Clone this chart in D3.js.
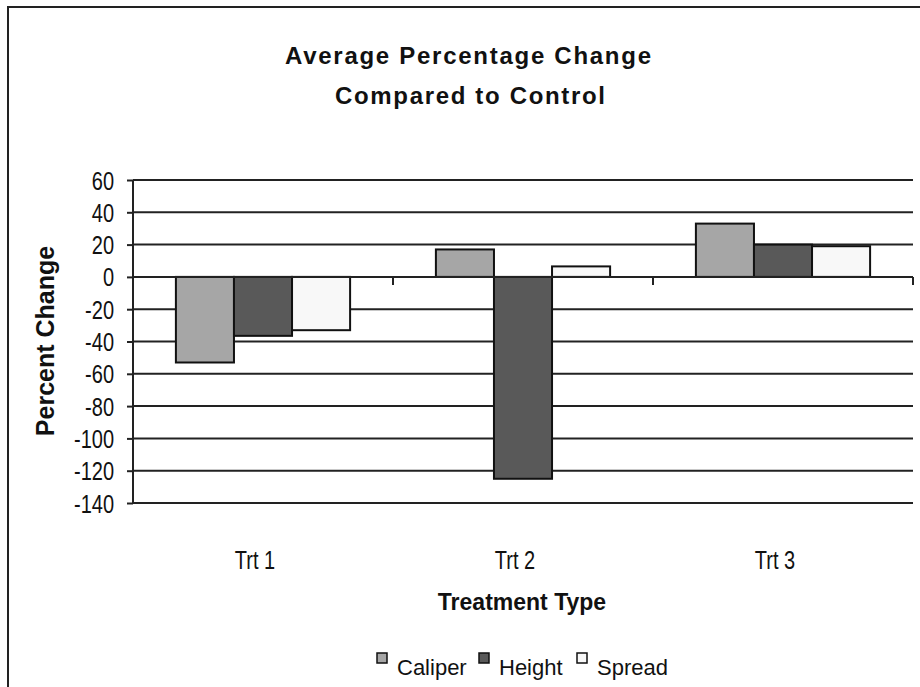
<!DOCTYPE html>
<head>
    <meta charset="utf-8">
    <script src="https://d3js.org/d3.v7.min.js"></script>
    <style>
      body { margin: 0; background: #fff; }
      text {
        font-family: "Liberation Sans", Arial, sans-serif;
        fill: #111;
      }
      .charttitle {
        font-weight: bold;
        font-size: 24px;
      }
      .axistitle {
        font-weight: bold;
        font-size: 23px;
      }
      .ylabel {
        font-weight: bold;
        font-size: 25px;
      }
      .ticklabel { font-size: 25px; }
      .legendlabel { font-size: 22px; }
    </style>
<body>
    <script>
        // data
        var categories = ["Trt 1", "Trt 2", "Trt 3"];
        var seriesNames = ["Caliper", "Height", "Spread"];
        var caliper = [-53, 17, 33];
        var height = [-36.5, -125, 20];
        var spread = [-33, 6.5, 19];
        var yTicks = [60, 40, 20, 0, -20, -40, -60, -80, -100, -120, -140];
        var seriesColors = ["#a6a6a6", "#595959", "#f8f8f8"];

        var seriesValues = [caliper, height, spread];
        var rows = [];
        categories.forEach(function(c, i) {
          seriesNames.forEach(function(s, j) {
            rows.push({cat: c, series: s, value: seriesValues[j][i]});
          });
        });

        var narrow = 0.8; // squeeze for the condensed axis font

        var svg_w = 920, svg_h = 687;
        var svg = d3.select("body").append("svg")
          .attr("width", svg_w)
          .attr("height", svg_h);

        // outer frame (right and bottom edges fall outside the picture)
        svg.append("rect")
          .attr("x", 8).attr("y", 7)
          .attr("width", 1000).attr("height", 1000)
          .attr("fill", "none")
          .attr("stroke", "#222")
          .attr("stroke-width", 2);

        var plotLeft = 133, plotRight = 913;
        var x0 = d3.scaleBand().domain(categories).range([plotLeft, plotRight]).padding(0);
        var x1 = d3.scaleBand().domain(seriesNames)
          .range([x0.bandwidth() * 0.165, x0.bandwidth() * 0.835]);
        var y = d3.scaleLinear().domain([-140, 60]).range([503, 180]);
        var color = d3.scaleOrdinal().domain(seriesNames).range(seriesColors);

        // y axis
        var yAxis = svg.append("g")
          .attr("transform", "translate(" + plotLeft + ",0)")
          .call(d3.axisLeft(y).tickValues(yTicks).tickSize(6).tickPadding(12)
            .tickFormat(function(d) { return String(d); }));
        yAxis.selectAll(".tick line").attr("stroke", "#222").attr("stroke-width", 2);
        yAxis.select(".domain").attr("stroke", "#222").attr("stroke-width", 2)
          .attr("d", "M0," + y(60) + "V" + y(-140));
        yAxis.selectAll(".tick text")
          .attr("class", "ticklabel")
          .attr("font-size", null).attr("font-family", null)
          .attr("fill", "#111")
          .attr("x", -19 / narrow)
          .attr("dy", "0.36em")
          .attr("transform", "scale(" + narrow + ",1)");

        // gridlines
        svg.append("g").selectAll("line").data(yTicks).enter().append("line")
          .attr("x1", plotLeft).attr("x2", plotRight)
          .attr("y1", function(d) { return y(d); })
          .attr("y2", function(d) { return y(d); })
          .attr("stroke", "#222").attr("stroke-width", 2);

        // bars
        svg.append("g").selectAll("rect").data(rows).enter().append("rect")
          .attr("x", function(d) { return x0(d.cat) + x1(d.series); })
          .attr("width", x1.bandwidth())
          .attr("y", function(d) { return y(Math.max(0, d.value)); })
          .attr("height", function(d) { return Math.abs(y(d.value) - y(0)); })
          .attr("fill", function(d) { return color(d.series); })
          .attr("stroke", "#111")
          .attr("stroke-width", 2);

        // x axis at zero with ticks between categories
        var xAxisG = svg.append("g");
        xAxisG.append("line")
          .attr("x1", plotLeft).attr("x2", plotRight)
          .attr("y1", y(0)).attr("y2", y(0))
          .attr("stroke", "#222").attr("stroke-width", 2);
        xAxisG.selectAll(".ctick").data(categories).enter().append("line")
          .attr("class", "ctick")
          .attr("x1", function(d) { return x0(d) + x0.bandwidth(); })
          .attr("x2", function(d) { return x0(d) + x0.bandwidth(); })
          .attr("y1", y(0)).attr("y2", y(0) + 8)
          .attr("stroke", "#222").attr("stroke-width", 2);

        // category labels
        svg.append("g").selectAll("text").data(categories).enter().append("text")
          .attr("class", "ticklabel")
          .attr("transform", "scale(" + narrow + ",1)")
          .attr("x", function(d) { return (x0(d) + x0.bandwidth() / 2 - 8) / narrow; })
          .attr("y", 569)
          .attr("text-anchor", "middle")
          .text(function(d) { return d; });

        // titles
        svg.append("text").attr("class", "charttitle")
          .attr("x", 468).attr("y", 64).attr("text-anchor", "middle")
          .attr("textLength", 366).attr("lengthAdjust", "spacing")
          .text("Average Percentage Change");
        svg.append("text").attr("class", "charttitle")
          .attr("x", 470).attr("y", 104).attr("text-anchor", "middle")
          .attr("textLength", 270).attr("lengthAdjust", "spacing")
          .text("Compared to Control");

        svg.append("text").attr("class", "axistitle")
          .attr("x", 522).attr("y", 610).attr("text-anchor", "middle")
          .text("Treatment Type");

        svg.append("text").attr("class", "ylabel")
          .attr("transform", "translate(54,341) rotate(-90)")
          .attr("text-anchor", "middle")
          .text("Percent Change");

        // legend
        var legendX = [377, 479, 577];
        var legend = svg.append("g").selectAll("g").data(seriesNames).enter().append("g")
          .attr("transform", function(d, i) { return "translate(" + legendX[i] + ",653)"; });
        legend.append("rect")
          .attr("width", 10).attr("height", 10)
          .attr("fill", function(d) { return color(d); })
          .attr("stroke", "#111").attr("stroke-width", 1.5);
        legend.append("text").attr("class", "legendlabel")
          .attr("x", 20).attr("y", 22)
          .text(function(d) { return d; });
    </script>
</body>
